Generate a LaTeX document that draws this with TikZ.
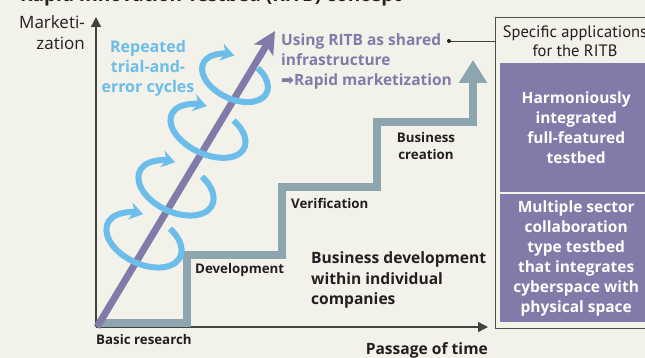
\documentclass[tikz,border=0pt]{standalone}
\usepackage{fontspec}
\setmainfont{Open Sans}
\newfontfamily\condfont{PT Sans}
\newfontfamily\symfont{DejaVu Sans}
\usetikzlibrary{arrows.meta}
\definecolor{bg}{RGB}{242,241,234}
\definecolor{ritbblue}{RGB}{108,189,233}
\definecolor{ritbpurple}{RGB}{128,123,169}
\definecolor{stairgray}{RGB}{141,165,175}
\definecolor{ink}{RGB}{35,31,32}
\begin{document}
\begin{tikzpicture}[x=1pt,y=1pt,
  axis/.style={draw=ink!85, line width=1.3pt, -{Triangle[length=10pt,width=10pt]}},
  cyclearc/.style={draw=ritbblue, line width=6pt, -{Stealth[length=13pt,width=17pt,inset=4pt]}},
  stairlabel/.style={inner sep=0pt, text=ink, font=\fontsize{13.3}{16.5}\selectfont\bfseries},
  bigtext/.style={inner sep=0pt, font=\fontsize{16}{20}\selectfont\bfseries},
  testbed/.style={fill=ritbpurple, inner sep=0pt, anchor=north west, minimum width=152pt,
     text=white, align=center, font=\fontsize{15.5}{20}\selectfont\bfseries},
]
\path[use as bounding box] (0,0) rectangle (645,-358);
\clip (0,0) rectangle (645,-358);
\fill[bg] (0,0) rectangle (645,-358);

% clipped title
\node[anchor=base west, inner sep=0pt, text=ink, font=\fontsize{19}{24}\selectfont\bfseries] (title) at (20,-1.5) {Rapid Innovation Testbed (RITB) concept};

% axes
\coordinate (O) at (96,-327);
\coordinate (ytip) at (96,-17);
\coordinate (xtip) at (488,-327);
\draw[axis] (O) -- (ytip);
\draw[axis] (O) -- (xtip);
\node[anchor=east, align=right, inner sep=0pt, text=ink, font=\fontsize{17}{21}\selectfont] (ylab) at (85,-33) {Marketi-\\zation};
\node[anchor=east, inner sep=0pt, text=ink, font=\fontsize{15.6}{18}\selectfont\bfseries] (xlab) at (488,-350) {Passage of time};

% staircase
\draw[stairgray, line width=8pt, -{Triangle[length=23pt,width=27pt]}]
  (97,-323) -- (187,-323) -- (187,-255) -- (282,-255) -- (282,-187)
  -- (377,-187) -- (377,-122) -- (473,-122) -- (473,-60);

% purple arrow
\coordinate (ptip) at (275,-31);
\draw[ritbpurple, line width=7pt, -{Stealth[length=22pt,width=22pt,inset=5pt]}] (97,-327) -- (ptip);

% trial-and-error cycles
\foreach \cx/\cy/\ra/\rb in {144/240/40/24, 176/188/40/24, 208/131/40/23, 235/78/35/21} {
  \draw[cyclearc, shift={(\cx,-\cy)}, rotate=-25]
    (62:\ra pt and \rb pt) arc[start angle=62, end angle=-253, x radius=\ra, y radius=\rb];
}

% labels
\node[bigtext, text=ritbblue, align=center] (cycles) at (148,-68) {Repeated\\trial-and-\\error cycles};
\node[bigtext, text=ritbpurple, align=left, anchor=west, font=\fontsize{15.5}{20}\selectfont\bfseries] (shared) at (281,-61) {Using RITB as shared\\infrastructure\\{\symfont\bfseries ➡}Rapid marketization};

\node[stairlabel, anchor=west] (basic) at (96,-340) {Basic research};
\node[stairlabel, anchor=west] (devel) at (195,-270) {Development};
\node[stairlabel, anchor=west] (verif) at (291,-203) {Verification};
\node[stairlabel, align=center] (bcreate) at (426,-146) {Business\\creation};
\node[inner sep=0pt, text=ink, align=left, anchor=west, font=\fontsize{15.6}{20.5}\selectfont\bfseries] (bdev) at (311,-280) {Business development\\within individual\\companies};

% right panel
\node[draw=ink!80, line width=1pt, minimum width=162pt, minimum height=311pt, anchor=north west, inner sep=0pt] (appbox) at (495,-17) {};
\node[inner sep=0pt, text=ink, align=center, font=\condfont\fontsize{16.5}{19}\selectfont] (apphead) at (575,-41) {Specific applications\\for the RITB};
\node[testbed, minimum height=129pt] (tb1) at (500,-63) {Harmoniously\\integrated\\full-featured\\testbed};
\node[testbed, minimum height=128pt] (tb2) at (500,-194) {Multiple sector\\collaboration\\type testbed\\that integrates\\cyberspace with\\physical space};

% pointer from purple text to the panel
\node[circle, fill=ink, inner sep=0pt, minimum size=4pt] (dot) at (449,-41) {};
\draw[ink!85, line width=0.9pt] (dot) -- (dot -| appbox.west);
\end{tikzpicture}
\end{document}
